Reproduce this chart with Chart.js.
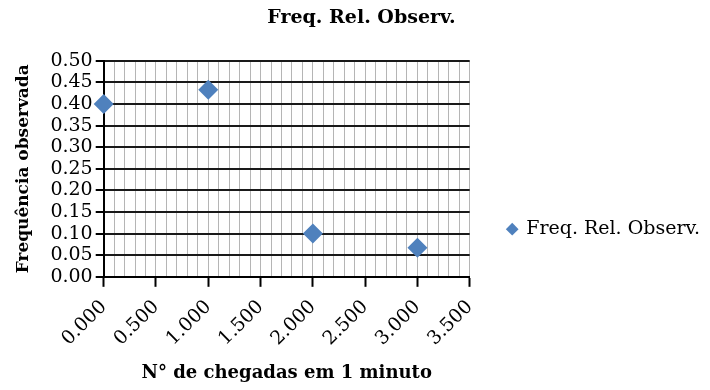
<!DOCTYPE html>
<html>
<head>
<meta charset="utf-8">
<script src="https://cdn.jsdelivr.net/npm/chart.js@4/dist/chart.umd.min.js"></script>
<style>
  html, body { margin: 0; padding: 0; background: #fff; }
  #wrap { width: 710px; height: 390px; }
</style>
</head>
<body>
<div id="wrap"><canvas id="chart"></canvas></div>
<script>
// Number of arrivals per minute and the observed relative frequency
const arrivals = [0, 1, 2, 3];
const observedFreq = [0.400, 0.433, 0.100, 0.067];
const seriesName = 'Freq. Rel. Observ.';
const chartTitle = 'Freq. Rel. Observ.';
const xTitle = 'N° de chegadas em 1 minuto';
const yTitle = 'Frequência observada';

const FONT = '"DejaVu Serif", "Liberation Serif", serif';
const isMajorX = v => Math.abs(v * 2 - Math.round(v * 2)) < 1e-6;

new Chart(document.getElementById('chart'), {
  type: 'scatter',
  data: {
    datasets: [{
      label: seriesName,
      data: arrivals.map((x, i) => ({ x, y: observedFreq[i] })),
      pointStyle: 'rectRot',
      pointRadius: 10,
      pointHoverRadius: 10,
      backgroundColor: '#4F81BD',
      borderColor: '#4F81BD',
      borderWidth: 0,
      clip: false
    }]
  },
  options: {
    responsive: true,
    maintainAspectRatio: false,
    animation: false,
    layout: { padding: { left: 13, right: 0, top: 0, bottom: 6 } },
    plugins: {
      tooltip: { enabled: false },
      title: {
        display: true,
        text: chartTitle,
        color: '#000',
        font: { family: FONT, size: 19, weight: 'bold' },
        padding: { top: 7, bottom: 31 }
      },
      legend: {
        position: 'right',
        maxWidth: 300,
        // blank legend title only shifts the single entry downwards
        title: { display: true, text: ' ', font: { size: 2 }, padding: { top: 72, bottom: 0 } },
        labels: {
          usePointStyle: true,
          boxWidth: 9,
          boxHeight: 9,
          color: '#000',
          font: { family: FONT, size: 19 },
          padding: 38
        }
      }
    },
    scales: {
      x: {
        type: 'linear',
        min: 0,
        max: 3.5,
        title: {
          display: true,
          text: xTitle,
          color: '#000',
          font: { family: FONT, size: 18, weight: 'bold' },
          padding: { top: 3, bottom: 0 }
        },
        ticks: {
          stepSize: 0.1,
          autoSkip: false,
          minRotation: 45,
          maxRotation: 45,
          padding: 9,
          color: '#000',
          font: { family: FONT, size: 19 },
          callback: v => isMajorX(v) ? v.toFixed(3) : ''
        },
        grid: {
          color: '#b5b5b5',
          lineWidth: 1,
          tickLength: 10,
          tickWidth: 2,
          tickColor: c => (c.tick && isMajorX(c.tick.value)) ? '#000' : 'rgba(0,0,0,0)'
        },
        border: { display: true, color: '#000', width: 2 }
      },
      y: {
        min: 0,
        max: 0.5,
        title: {
          display: true,
          text: yTitle,
          color: '#000',
          font: { family: FONT, size: 17, weight: 'bold' },
          padding: { top: 0, bottom: 14 }
        },
        ticks: {
          stepSize: 0.05,
          autoSkip: false,
          color: '#000',
          font: { family: FONT, size: 19 },
          padding: 3,
          callback: v => v.toFixed(2)
        },
        grid: {
          color: '#1a1a1a',
          lineWidth: 2,
          tickLength: 8,
          tickWidth: 2,
          tickColor: '#000'
        },
        border: { display: true, color: '#000', width: 2 }
      }
    }
  }
});
</script>
</body>
</html>
